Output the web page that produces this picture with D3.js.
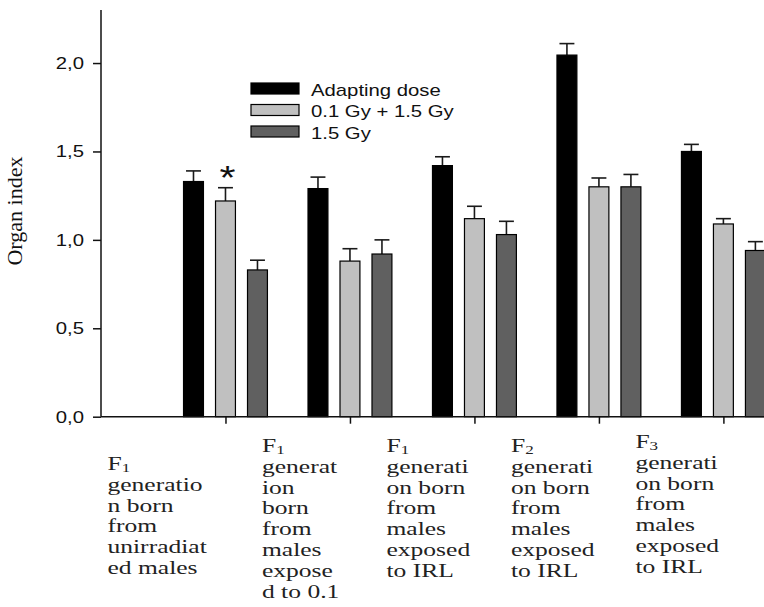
<!DOCTYPE html>
<html lang="en">
  <head>
    <meta charset="utf-8" />
    <title>Organ index</title>
    <script src="https://d3js.org/d3.v7.min.js" charset="utf-8"></script>
    <style>
      body { margin: 0; background: #fff; }
      svg { display: block; }
      .sans { font-family: "Liberation Sans", Arial, sans-serif; }
      .serif { font-family: "Liberation Serif", "Times New Roman", serif; }
    </style>
  </head>
  <body>
    <div id="graph-container"></div>
    <script type="text/javascript">
      // data
      const seriesNames = ["Adapting dose", "0.1 Gy + 1.5 Gy", "1.5 Gy"];
      const adaptingDose = [1.33, 1.29, 1.42, 2.045, 1.5];
      const adaptingErr = [0.06, 0.065, 0.05, 0.065, 0.04];
      const combinedDose = [1.22, 0.88, 1.12, 1.3, 1.09];
      const combinedErr = [0.075, 0.07, 0.07, 0.05, 0.03];
      const singleDose = [0.83, 0.92, 1.03, 1.3, 0.94];
      const singleErr = [0.055, 0.08, 0.075, 0.07, 0.05];
      const yTicks = [0, 0.5, 1.0, 1.5, 2.0];
      const starMarks = [{ group: 0, series: 1 }];
      const groupLabels = [
        ["F|1", "generatio", "n born", "from", "unirradiat", "ed males"],
        ["F|1", "generat", "ion", "born", "from", "males", "expose", "d to 0.1"],
        ["F|1", "generati", "on born", "from", "males", "exposed", "to IRL"],
        ["F|2", "generati", "on born", "from", "males", "exposed", "to IRL"],
        ["F|3", "generati", "on born", "from", "males", "exposed", "to IRL"],
      ];

      const cW = 764,
        cH = 607,
        cAxisX = 101,
        cAxisTop = 10,
        cAxisBottom = 416.7,
        cStretch = 1.27;

      const fills = ["#000000", "#c0c0c0", "#606060"];
      const values = [adaptingDose, combinedDose, singleDose];
      const errors = [adaptingErr, combinedErr, singleErr];

      const svg = d3
        .select("#graph-container")
        .append("svg")
        .attr("width", cW)
        .attr("height", cH);

      // group i sits at position i+1, position 0 is the y axis
      const xScale = d3.scaleLinear().domain([0, 5]).range([cAxisX, 723.4]);
      const yScale = d3
        .scaleLinear()
        .domain([0, 2.3])
        .range([cAxisBottom, cAxisTop]);

      const barStep = 0.257,
        barW = xScale(0.16) - xScale(0),
        capW = xScale(0.12) - xScale(0);

      let bars = [];
      values.forEach((arr, s) => {
        arr.forEach((v, g) => {
          bars.push({
            s: s,
            g: g,
            v: v,
            e: errors[s][g],
            cx: xScale(g + 1 + (s - 1) * barStep),
          });
        });
      });

      // error bars (upper only)
      const errG = svg.append("g").attr("stroke", "#1a1a1a").attr("stroke-width", 1.6);
      errG
        .selectAll("line.stem")
        .data(bars)
        .enter()
        .append("line")
        .attr("x1", (d) => d.cx)
        .attr("x2", (d) => d.cx)
        .attr("y1", (d) => yScale(d.v))
        .attr("y2", (d) => yScale(d.v + d.e));
      errG
        .selectAll("line.cap")
        .data(bars)
        .enter()
        .append("line")
        .attr("x1", (d) => d.cx - capW / 2)
        .attr("x2", (d) => d.cx + capW / 2)
        .attr("y1", (d) => yScale(d.v + d.e))
        .attr("y2", (d) => yScale(d.v + d.e));

      svg
        .append("g")
        .selectAll("rect")
        .data(bars)
        .enter()
        .append("rect")
        .attr("x", (d) => d.cx - barW / 2)
        .attr("y", (d) => yScale(d.v))
        .attr("width", barW)
        .attr("height", (d) => yScale(0) - yScale(d.v))
        .attr("fill", (d) => fills[d.s])
        .attr("stroke", "#000")
        .attr("stroke-width", 1.2);

      // asterisk
      svg
        .selectAll("text.star")
        .data(starMarks)
        .enter()
        .append("text")
        .attr("class", "sans")
        .attr("transform", (d) => {
          const b = bars.find((q) => q.g == d.group && q.s == d.series);
          return `translate(${b.cx + 2},${yScale(b.v + b.e) + 1}) scale(1.25,1)`;
        })
        .attr("text-anchor", "middle")
        .attr("font-size", 33)
        .attr("fill", "#111")
        .text("*");

      // axes
      const commaFmt = (v) => d3.format(".1f")(v).replace(".", ",");
      const yAxis = d3
        .axisLeft(yScale)
        .tickValues(yTicks)
        .tickSize(8)
        .tickFormat("");
      const gy = svg
        .append("g")
        .attr("transform", `translate(${cAxisX},0)`)
        .call(yAxis);
      gy.select(".domain").attr("d", `M0,${cAxisTop}V${cAxisBottom}`);
      gy.selectAll("line, path").attr("stroke", "#111").attr("stroke-width", 1.5);

      svg
        .append("g")
        .selectAll("text")
        .data(yTicks)
        .enter()
        .append("text")
        .attr("class", "sans")
        .attr("text-anchor", "end")
        .attr("font-size", 16)
        .attr("fill", "#111")
        .attr("transform", (d) => `translate(${cAxisX - 17},${yScale(d) + 5.8}) scale(${cStretch},1)`)
        .text(commaFmt);

      const xAxis = d3
        .axisBottom(xScale)
        .tickValues([1, 2, 3, 4, 5])
        .tickSize(7)
        .tickFormat("");
      const gx = svg
        .append("g")
        .attr("transform", `translate(0,${cAxisBottom})`)
        .call(xAxis);
      gx.select(".domain").attr("d", `M${cAxisX},0H${cW}`);
      gx.selectAll("line, path").attr("stroke", "#111").attr("stroke-width", 1.5);

      // y title
      svg
        .append("text")
        .attr("class", "serif")
        .attr("text-anchor", "middle")
        .attr("font-size", 21)
        .attr("fill", "#111")
        .attr("transform", `translate(22,211) rotate(-90) scale(1.05,1)`)
        .text("Organ index");

      // legend
      const legend = svg
        .append("g")
        .selectAll("g")
        .data(seriesNames)
        .enter()
        .append("g")
        .attr("transform", (d, i) => `translate(251,${83 + i * 21.5})`);
      legend
        .append("rect")
        .attr("width", 48)
        .attr("height", 11)
        .attr("fill", (d, i) => fills[i])
        .attr("stroke", "#000")
        .attr("stroke-width", 1.2);
      legend
        .append("text")
        .attr("class", "sans")
        .attr("font-size", 16)
        .attr("fill", "#111")
        .attr("transform", `translate(60,12.5) scale(${cStretch},1)`)
        .text((d) => d);

      // category labels under the axis
      const labelLeft = [-118, -88, -88, -88, -88],
        labelTop = [470, 452, 452, 452, 448];
      const lab = svg
        .append("g")
        .selectAll("g")
        .data(groupLabels)
        .enter()
        .append("g")
        .attr("class", "serif")
        .attr("font-size", 18)
        .attr("fill", "#222")
        .attr("transform", (d, i) => `translate(${xScale(i + 1) + labelLeft[i]},${labelTop[i]}) scale(1.42,1)`);
      lab.each(function (lines) {
        const g = d3.select(this);
        lines.forEach((line, k) => {
          const t = g.append("text").attr("y", k * 20.8);
          if (line.indexOf("|") > -1) {
            const parts = line.split("|");
            t.append("tspan").text(parts[0]);
            t.append("tspan").attr("font-size", 12).attr("dy", 2).text(parts[1]);
          } else {
            t.text(line);
          }
        });
      });
    </script>
  </body>
</html>
